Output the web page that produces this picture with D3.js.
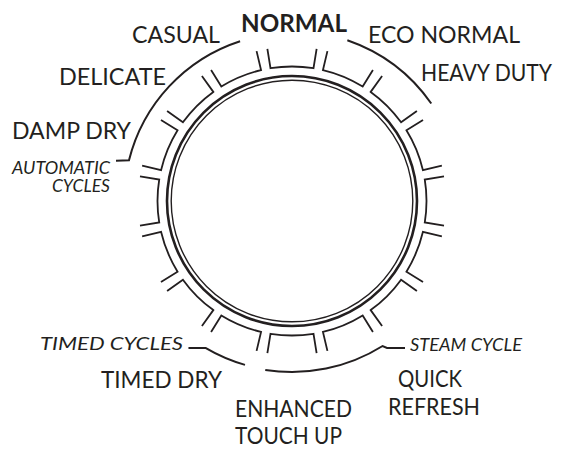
<!DOCTYPE html>
<html>
<head>
<meta charset="utf-8">
<script src="https://cdn.jsdelivr.net/npm/d3@7"></script>
<style>
  html, body { margin: 0; padding: 0; background: #fff; }
  svg { display: block; }
  text { font-family: Lato, "Open Sans", sans-serif; fill: #231f20; }
</style>
</head>
<body>
<svg id="chart" width="569" height="449"></svg>
<script>
// ---- data ----
const cycleLabels = ["CASUAL", "NORMAL", "ECO NORMAL", "HEAVY DUTY", "DELICATE", "DAMP DRY",
  "TIMED DRY", "ENHANCED", "TOUCH UP", "QUICK", "REFRESH"];
const groupLabels = [["AUTOMATIC", "CYCLES"], ["TIMED CYCLES"], ["STEAM CYCLE"]];
const detentAngles = [0, 22.5, 45, 67.5, 90, 112.5, 135, 157.5, 180, 202.5, 225, 247.5, 270, 292.5, 315, 337.5];
// arcs grouping the cycles (degrees, clockwise from 12 o'clock)
const automaticArcLeft = [-18, -76];
const automaticArcRight = [19, 55];
const timedArc = [210.5, 196];
const steamArc = [189, 148];

// ---- layout ----
const cx = 292, cy = 201;
const svg = d3.select("#chart");
const ink = "#231f20";

const ang = d3.scaleLinear().domain([0, 360]).range([0, 2 * Math.PI]);
function pt(r, deg) {
  const a = ang(deg);
  return [cx + r * Math.sin(a), cy - r * Math.cos(a)];
}
function pa(deg) { return ang(deg) - Math.PI / 2; }

// double knob circle
svg.append("circle").attr("cx", cx).attr("cy", cy).attr("r", 125)
  .attr("fill", "none").attr("stroke", ink).attr("stroke-width", 2.6);
svg.append("circle").attr("cx", cx).attr("cy", cy).attr("r", 120.8)
  .attr("fill", "none").attr("stroke", ink).attr("stroke-width", 1.4);

// detent brackets
const rIn = 134.5, rOut = 154, half = 9.2;
svg.append("g").selectAll("path").data(detentAngles).join("path")
  .attr("d", a => {
    const p = d3.path();
    const s0 = pt(rOut, a - half), s1 = pt(rIn, a - half), e1 = pt(rOut, a + half);
    p.moveTo(s0[0], s0[1]);
    p.lineTo(s1[0], s1[1]);
    p.arc(cx, cy, rIn, pa(a - half), pa(a + half), false);
    p.lineTo(e1[0], e1[1]);
    return p.toString();
  })
  .attr("fill", "none").attr("stroke", ink).attr("stroke-width", 1.8)
  .attr("stroke-linejoin", "miter");

// group arcs
const arcG = svg.append("g").attr("fill", "none").attr("stroke", ink).attr("stroke-width", 2);
{
  const r = 168;
  const p = d3.path();
  const s = pt(r, automaticArcLeft[0]);
  p.moveTo(s[0], s[1]);
  p.arc(cx, cy, r, pa(automaticArcLeft[0]), pa(automaticArcLeft[1]), true);
  const e = pt(r, automaticArcLeft[1]);
  p.lineTo(e[0] - 13, e[1] + 0.5);
  arcG.append("path").attr("d", p.toString());
}
{
  const r = 170;
  const p = d3.path();
  const s = pt(r, automaticArcRight[0]);
  p.moveTo(s[0], s[1]);
  p.arc(cx, cy, r, pa(automaticArcRight[0]), pa(automaticArcRight[1]), false);
  arcG.append("path").attr("d", p.toString());
}
{
  const r = 170.5;
  const p = d3.path();
  const s = pt(r, timedArc[0]);
  p.moveTo(s[0] - 17, s[1]);
  p.lineTo(s[0], s[1]);
  p.arc(cx, cy, r, pa(timedArc[0]), pa(timedArc[1]), true);
  arcG.append("path").attr("d", p.toString());
}
{
  const r = 171;
  const p = d3.path();
  const s = pt(r, steamArc[0]);
  p.moveTo(s[0], s[1]);
  p.arc(cx, cy, r, pa(steamArc[0]), pa(steamArc[1]), true);
  p.lineTo(387, 348);
  p.lineTo(405, 348);
  arcG.append("path").attr("d", p.toString());
}

// cycle labels: [x, baseline, width, size, weight]
const cycleLayout = [
  [132, 43, 88, 22.5, 400],
  [241, 32, 106, 24, 700],
  [368, 43, 152, 22.5, 400],
  [421, 81, 131, 22.5, 400],
  [59, 85, 107, 22.5, 400],
  [12, 139, 119, 22.5, 400],
  [101, 388, 121, 22.5, 400],
  [235, 417, 117, 22.5, 400],
  [235, 443.5, 107, 22.5, 400],
  [398, 387, 64, 22.5, 400],
  [388, 415, 92, 22.5, 400]
];
svg.append("g").selectAll("text").data(cycleLabels).join("text")
  .attr("x", (d, i) => cycleLayout[i][0])
  .attr("y", (d, i) => cycleLayout[i][1])
  .attr("textLength", (d, i) => cycleLayout[i][2])
  .attr("lengthAdjust", "spacingAndGlyphs")
  .attr("font-size", (d, i) => cycleLayout[i][3])
  .attr("font-weight", (d, i) => cycleLayout[i][4])
  .text(d => d);

// group labels (italic): per line [x(end), baseline, width]
const groupLayout = [
  [[110, 174, 98], [110, 192, 58]],
  [[183, 350, 143]],
  [[522, 351, 112]]
];
svg.append("g").selectAll("text").data(groupLabels).join("text")
  .attr("font-size", 16.5)
  .attr("font-style", "italic")
  .attr("text-anchor", "end")
  .each(function (lines, i) {
    d3.select(this).selectAll("tspan").data(lines).join("tspan")
      .attr("x", (d, j) => groupLayout[i][j][0])
      .attr("y", (d, j) => groupLayout[i][j][1])
      .attr("textLength", (d, j) => groupLayout[i][j][2])
      .attr("lengthAdjust", "spacingAndGlyphs")
      .text(d => d);
  });
</script>
</body>
</html>
